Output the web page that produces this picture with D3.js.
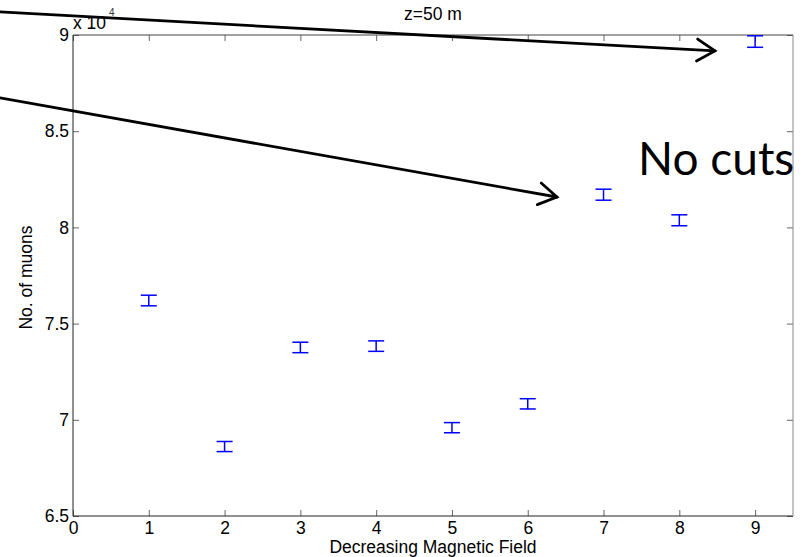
<!DOCTYPE html>
<html>
<head>
<meta charset="utf-8">
<script src="https://cdn.jsdelivr.net/npm/d3@7"></script>
<style>
  body { margin: 0; background: #fff; }
  svg { display: block; }
  text { font-family: "Liberation Sans", Arial, sans-serif; }
</style>
</head>
<body>
<svg id="chart" width="805" height="557"></svg>
<script>
// data (counts in units of 10^4)
const fieldSteps = [1, 2, 3, 4, 5, 6, 7, 8, 9];
const muonCounts = [7.620, 6.861, 7.376, 7.383, 6.959, 7.083, 8.170, 8.037, 8.966];
const muonErrors = [0.0276, 0.0262, 0.0272, 0.0272, 0.0264, 0.0266, 0.0286, 0.0284, 0.0299];
const xTicks = [0, 1, 2, 3, 4, 5, 6, 7, 8, 9];
const yTicks = [6.5, 7, 7.5, 8, 8.5, 9];

// annotation arrows, in data units: [x0, y0, x1, y1]
const arrows = [
  [-0.963, 9.12, 8.47, 8.917],
  [-0.963, 8.673, 6.385, 8.158],
];

const margin = { top: 35, right: 12, bottom: 41, left: 73 };
const W = 805, H = 557;
const w = W - margin.left - margin.right;
const h = H - margin.top - margin.bottom;
const fs = 17.5;

const svg = d3.select("#chart");
const g = svg.append("g").attr("transform", `translate(${margin.left},${margin.top})`);

const x = d3.scaleLinear().domain([0, 9.5]).range([0, w]);
const y = d3.scaleLinear().domain([6.5, 9]).range([h, 0]);

// axes (MATLAB style: ticks inside, mirrored)
const tickLen = 6;
const xAxis = g.append("g").attr("transform", `translate(0,${h})`)
  .call(d3.axisBottom(x).tickValues(xTicks).tickSizeInner(-tickLen).tickSizeOuter(0).tickPadding(5).tickFormat(d3.format("d")));
const xAxisTop = g.append("g")
  .call(d3.axisTop(x).tickValues(xTicks).tickSizeInner(-tickLen).tickSizeOuter(0).tickFormat(""));
const yAxis = g.append("g")
  .call(d3.axisLeft(y).tickValues(yTicks).tickSizeInner(-tickLen).tickSizeOuter(0).tickPadding(4).tickFormat(d => d3.format("")(d)));
const yAxisRight = g.append("g").attr("transform", `translate(${w},0)`)
  .call(d3.axisRight(y).tickValues(yTicks).tickSizeInner(-tickLen).tickSizeOuter(0).tickFormat(""));

[xAxis, xAxisTop, yAxis, yAxisRight].forEach(a => {
  a.select(".domain").remove();
  a.selectAll(".tick line").attr("stroke", "#666");
  a.selectAll(".tick text").attr("font-size", fs).attr("fill", "#000")
    .style("font-family", "'Liberation Sans', Arial, sans-serif");
});
xAxis.selectAll(".tick text").attr("dy", "0.76em");

// box
g.append("line").attr("x1", 0).attr("x2", w).attr("y1", h).attr("y2", h).attr("stroke", "#222");
g.append("line").attr("x1", 0).attr("x2", 0).attr("y1", 0).attr("y2", h).attr("stroke", "#222");
g.append("line").attr("x1", 0).attr("x2", w).attr("y1", 0).attr("y2", 0).attr("stroke", "#444");
g.append("line").attr("x1", w).attr("x2", w).attr("y1", 0).attr("y2", h).attr("stroke", "#888");

// exponent label
g.append("text").attr("x", 0).attr("y", -6).attr("font-size", fs).text("x 10");
g.append("text").attr("x", 36).attr("y", -19).attr("font-size", 10).attr("fill", "#333").text("4");

// title and axis labels
g.append("text").attr("x", w / 2).attr("y", -15).attr("text-anchor", "middle").attr("font-size", fs).text("z=50 m");
g.append("text").attr("x", w / 2).attr("y", h + 37).attr("text-anchor", "middle").attr("font-size", fs).text("Decreasing Magnetic Field");
g.append("text").attr("transform", `translate(-41,${h / 2 + 2}) rotate(-90)`).attr("text-anchor", "middle").attr("font-size", fs).text("No. of muons");

// error bars
const capHalf = 8;
const pts = fieldSteps.map((f, i) => ({ f, v: muonCounts[i], e: muonErrors[i] }));
const bars = g.append("g").attr("stroke", "#0000ff").attr("stroke-width", 1.5).attr("fill", "none");
bars.selectAll("line.v").data(pts).join("line").attr("class", "v")
  .attr("x1", d => x(d.f)).attr("x2", d => x(d.f))
  .attr("y1", d => y(d.v - d.e)).attr("y2", d => y(d.v + d.e));
bars.selectAll("line.top").data(pts).join("line").attr("class", "top")
  .attr("x1", d => x(d.f) - capHalf).attr("x2", d => x(d.f) + capHalf)
  .attr("y1", d => y(d.v + d.e)).attr("y2", d => y(d.v + d.e));
bars.selectAll("line.bot").data(pts).join("line").attr("class", "bot")
  .attr("x1", d => x(d.f) - capHalf).attr("x2", d => x(d.f) + capHalf)
  .attr("y1", d => y(d.v - d.e)).attr("y2", d => y(d.v - d.e));

// "No cuts" annotation
g.append("text").attr("x", 565).attr("y", 140).attr("font-size", 46)
  .style("font-family", "'Gill Sans', Lato, sans-serif").attr("fill", "#000").text("No cuts");

// arrows
const arrowG = g.append("g").attr("stroke", "#000").attr("stroke-width", 2.8).attr("fill", "none")
  .attr("stroke-linecap", "round").attr("stroke-linejoin", "miter");
arrows.forEach(([x0, y0, x1, y1]) => {
  const px0 = x(x0), py0 = y(y0), px1 = x(x1), py1 = y(y1);
  arrowG.append("line").attr("x1", px0).attr("y1", py0).attr("x2", px1).attr("y2", py1);
  const ang = Math.atan2(py1 - py0, px1 - px0);
  const len = 21, spread = 0.55;
  const a1 = ang + Math.PI - spread, a2 = ang + Math.PI + spread;
  arrowG.append("path").attr("d",
    `M${px1 + len * Math.cos(a1)},${py1 + len * Math.sin(a1)}L${px1},${py1}L${px1 + len * Math.cos(a2)},${py1 + len * Math.sin(a2)}`);
});
</script>
</body>
</html>
